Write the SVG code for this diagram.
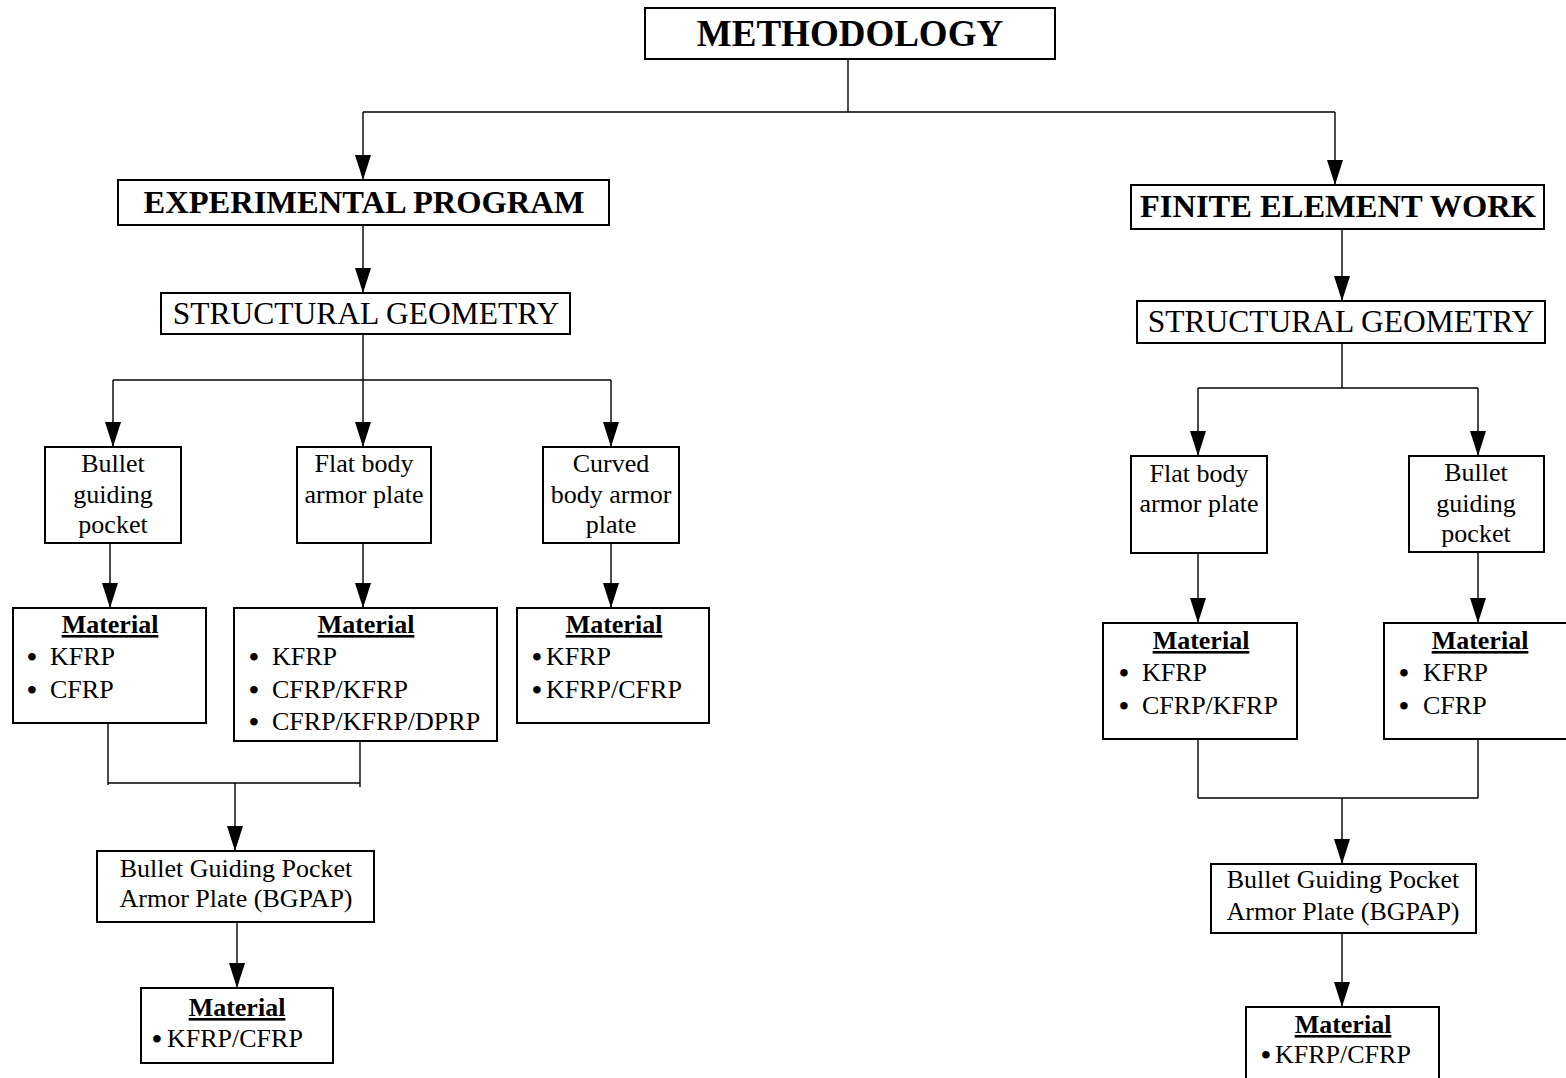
<svg xmlns="http://www.w3.org/2000/svg" width="1566" height="1078" viewBox="0 0 1566 1078">
<defs>
<style>
.box{fill:#fff;stroke:#000;stroke-width:2}
.t{font-family:"Liberation Serif","Times New Roman",serif;font-size:26px;fill:#000}
.c{text-anchor:middle}
.b{font-weight:bold}
.u{font-weight:bold;text-decoration:underline}
.h1{font-size:37px}
.h2{font-size:32.5px}
.h3{font-size:31.5px}
.bl{font-size:28px;font-weight:bold}
.con path{fill:none;stroke:#000;stroke-width:1.4}
</style>
<marker id="ah" viewBox="0 0 25 16" refX="25" refY="8" markerWidth="25" markerHeight="16" markerUnits="userSpaceOnUse" orient="auto">
<path d="M0,0 L25,8 L0,16 Z" fill="#000"/>
</marker>
</defs>
<rect width="1566" height="1078" fill="#fff"/>
<g id="connectors" class="con">
<path d="M848,59 V112"/>
<path d="M363,112 H1335"/>
<path d="M363,112 V180" marker-end="url(#ah)"/>
<path d="M1335,112 V185" marker-end="url(#ah)"/>
<path d="M363,225 V293" marker-end="url(#ah)"/>
<path d="M363,334 V380"/>
<path d="M113,380 H611"/>
<path d="M113,380 V447" marker-end="url(#ah)"/>
<path d="M363,380 V447" marker-end="url(#ah)"/>
<path d="M611,380 V447" marker-end="url(#ah)"/>
<path d="M110,543 V608" marker-end="url(#ah)"/>
<path d="M363,543 V608" marker-end="url(#ah)"/>
<path d="M611,543 V608" marker-end="url(#ah)"/>
<path d="M108,723 V785"/>
<path d="M360,741 V787"/>
<path d="M108,783 H360"/>
<path d="M235,783 V851" marker-end="url(#ah)"/>
<path d="M237,922 V988" marker-end="url(#ah)"/>
<path d="M1342,229 V301" marker-end="url(#ah)"/>
<path d="M1342,343 V388"/>
<path d="M1198,388 H1478"/>
<path d="M1198,388 V456" marker-end="url(#ah)"/>
<path d="M1478,388 V456" marker-end="url(#ah)"/>
<path d="M1198,553 V623" marker-end="url(#ah)"/>
<path d="M1478,552 V623" marker-end="url(#ah)"/>
<path d="M1198,739 V798"/>
<path d="M1478,739 V798"/>
<path d="M1198,798 H1478"/>
<path d="M1342,798 V864" marker-end="url(#ah)"/>
<path d="M1342,933 V1007" marker-end="url(#ah)"/>
</g>
<g id="methodology">
<rect class="box" x="645" y="8" width="410" height="51"/>
<text class="t c b h1" x="850" y="46">METHODOLOGY</text>
</g>
<g id="experimental">
<rect class="box" x="118" y="180" width="491" height="45"/>
<text class="t c b h2" x="364" y="213">EXPERIMENTAL PROGRAM</text>
</g>
<g id="geometry-left">
<rect class="box" x="161" y="293" width="409" height="41"/>
<text class="t c h3" x="366" y="324">STRUCTURAL GEOMETRY</text>
</g>
<g id="pocket-left">
<rect class="box" x="45" y="447" width="136" height="96"/>
<text class="t c" x="113" y="472">Bullet</text>
<text class="t c" x="113" y="503">guiding</text>
<text class="t c" x="113" y="533">pocket</text>
</g>
<g id="flat-left">
<rect class="box" x="297" y="447" width="134" height="96"/>
<text class="t c" x="364" y="472">Flat body</text>
<text class="t c" x="364" y="503">armor plate</text>
</g>
<g id="curved-left">
<rect class="box" x="543" y="447" width="136" height="96"/>
<text class="t c" x="611" y="472">Curved</text>
<text class="t c" x="611" y="503">body armor</text>
<text class="t c" x="611" y="533">plate</text>
</g>
<g id="material-1">
<rect class="box" x="13" y="608" width="193" height="115"/>
<text class="t c u" x="110" y="633">Material</text>
<text class="t"><tspan class="bl" x="27" y="666">•</tspan><tspan x="50" y="665">KFRP</tspan></text>
<text class="t"><tspan class="bl" x="27" y="699">•</tspan><tspan x="50" y="698">CFRP</tspan></text>
</g>
<g id="material-2">
<rect class="box" x="234" y="608" width="263" height="133"/>
<text class="t c u" x="366" y="633">Material</text>
<text class="t"><tspan class="bl" x="249" y="666">•</tspan><tspan x="272" y="665">KFRP</tspan></text>
<text class="t"><tspan class="bl" x="249" y="699">•</tspan><tspan x="272" y="698">CFRP/KFRP</tspan></text>
<text class="t"><tspan class="bl" x="249" y="731">•</tspan><tspan x="272" y="730">CFRP/KFRP/DPRP</tspan></text>
</g>
<g id="material-3">
<rect class="box" x="517" y="608" width="192" height="115"/>
<text class="t c u" x="614" y="633">Material</text>
<text class="t"><tspan class="bl" x="532" y="666">•</tspan><tspan x="546" y="665">KFRP</tspan></text>
<text class="t"><tspan class="bl" x="532" y="699">•</tspan><tspan x="546" y="698">KFRP/CFRP</tspan></text>
</g>
<g id="bgpap-left">
<rect class="box" x="97" y="851" width="277" height="71"/>
<text class="t c" x="236" y="877">Bullet Guiding Pocket</text>
<text class="t c" x="236" y="907">Armor Plate (BGPAP)</text>
</g>
<g id="material-left-final">
<rect class="box" x="141" y="988" width="192" height="75"/>
<text class="t c u" x="237" y="1016">Material</text>
<text class="t"><tspan class="bl" x="152" y="1048">•</tspan><tspan x="167" y="1047">KFRP/CFRP</tspan></text>
</g>
<g id="finite">
<rect class="box" x="1131" y="185" width="413" height="44"/>
<text class="t c b h2" x="1338" y="217">FINITE ELEMENT WORK</text>
</g>
<g id="geometry-right">
<rect class="box" x="1137" y="301" width="408" height="42"/>
<text class="t c h3" x="1341" y="332">STRUCTURAL GEOMETRY</text>
</g>
<g id="flat-right">
<rect class="box" x="1131" y="456" width="136" height="97"/>
<text class="t c" x="1199" y="482">Flat body</text>
<text class="t c" x="1199" y="512">armor plate</text>
</g>
<g id="pocket-right">
<rect class="box" x="1409" y="456" width="135" height="96"/>
<text class="t c" x="1476" y="481">Bullet</text>
<text class="t c" x="1476" y="512">guiding</text>
<text class="t c" x="1476" y="542">pocket</text>
</g>
<g id="material-4">
<rect class="box" x="1103" y="623" width="194" height="116"/>
<text class="t c u" x="1201" y="649">Material</text>
<text class="t"><tspan class="bl" x="1119" y="682">•</tspan><tspan x="1142" y="681">KFRP</tspan></text>
<text class="t"><tspan class="bl" x="1119" y="715">•</tspan><tspan x="1142" y="714">CFRP/KFRP</tspan></text>
</g>
<g id="material-5">
<rect class="box" x="1384" y="623" width="192" height="116"/>
<text class="t c u" x="1480" y="649">Material</text>
<text class="t"><tspan class="bl" x="1399" y="682">•</tspan><tspan x="1423" y="681">KFRP</tspan></text>
<text class="t"><tspan class="bl" x="1399" y="715">•</tspan><tspan x="1423" y="714">CFRP</tspan></text>
</g>
<g id="bgpap-right">
<rect class="box" x="1211" y="864" width="265" height="69"/>
<text class="t c" x="1343" y="888">Bullet Guiding Pocket</text>
<text class="t c" x="1343" y="920">Armor Plate (BGPAP)</text>
</g>
<g id="material-right-final">
<rect class="box" x="1246" y="1007" width="193" height="80"/>
<text class="t c u" x="1343" y="1033">Material</text>
<text class="t"><tspan class="bl" x="1261" y="1064">•</tspan><tspan x="1275" y="1063">KFRP/CFRP</tspan></text>
</g>
</svg>
